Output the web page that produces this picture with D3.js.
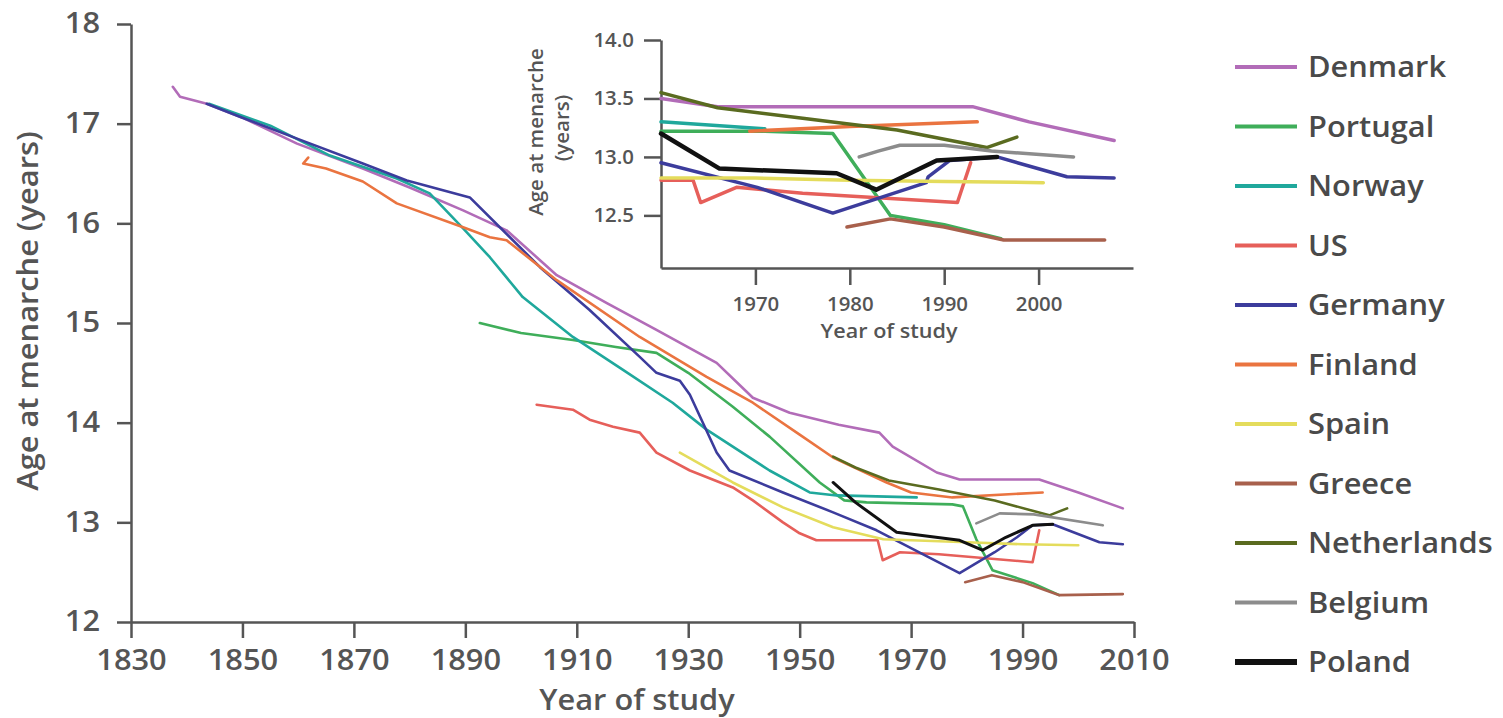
<!DOCTYPE html>
<html><head><meta charset="utf-8">
<script src="https://cdn.jsdelivr.net/npm/d3@7"></script>
<style>
body{margin:0;background:#fff}
svg{display:block}
text{font-family:"Open Sans",sans-serif;font-weight:600}
</style>
</head><body>
<svg id="c" width="1503" height="718"></svg>
<script>
// ---------- data ----------
const countries = ["Denmark","Portugal","Norway","US","Germany","Finland","Spain","Greece","Netherlands","Belgium","Poland"];
const colors = ["#b26cb8","#3fae5a","#1fa89c","#e65f5a","#3c3c9c","#ea7440","#e4dc5c","#a8604c","#5a6b20","#8c8c8c","#111111"];

const xTicksMain = [1830,1850,1870,1890,1910,1930,1950,1970,1990,2010];
const yTicksMain = [12,13,14,15,16,17,18];
const xTicksInset = [1970,1980,1990,2000];
const yTicksInset = [12.5,13.0,13.5,14.0];

// main chart series [year, age]
const denmark = [[1837.5,17.37],[1838.8,17.27],[1843.6,17.2],[1850,17.06],[1859.8,16.8],[1871.6,16.55],[1880,16.36],[1889.6,16.13],[1897.4,15.93],[1906.4,15.48],[1915.4,15.2],[1924.3,14.93],[1935.1,14.6],[1941.6,14.25],[1948.2,14.1],[1957,13.98],[1964.3,13.9],[1966.7,13.76],[1974.6,13.5],[1978.7,13.43],[1993,13.43],[2000,13.3],[2008,13.14]];
const portugal = [[1892.6,15.0],[1900,14.9],[1909.3,14.83],[1917,14.76],[1924.3,14.7],[1930,14.5],[1938,14.16],[1944.6,13.86],[1953.6,13.4],[1958,13.22],[1962,13.2],[1977.4,13.18],[1979.3,13.16],[1981.7,12.83],[1984.6,12.52],[1991.8,12.39],[1996.6,12.27]];
const norway = [[1844,17.2],[1855,16.98],[1865.7,16.68],[1877.7,16.45],[1883.6,16.3],[1889.6,15.95],[1894.4,15.66],[1900.3,15.26],[1909.3,14.86],[1918.3,14.53],[1927.2,14.2],[1933.3,13.93],[1944.6,13.52],[1951.8,13.3],[1956.6,13.27],[1971,13.25]];
const us = [[1902.8,14.18],[1909.3,14.13],[1912.3,14.03],[1916.5,13.96],[1921.3,13.9],[1924.3,13.7],[1930.3,13.52],[1938,13.35],[1941.6,13.22],[1947,13.0],[1950,12.89],[1953,12.82],[1964,12.82],[1964.9,12.62],[1968,12.7],[1975,12.68],[1991.8,12.6],[1993,12.92]];
const germany = [[1843.6,17.2],[1850,17.06],[1859.8,16.85],[1871.6,16.6],[1879.5,16.43],[1890.8,16.26],[1903.4,15.56],[1912.3,15.13],[1921.3,14.66],[1924.3,14.5],[1928.5,14.42],[1930.3,14.28],[1935.1,13.7],[1937.4,13.52],[1947,13.3],[1956,13.1],[1963.8,12.92],[1978.7,12.49],[1985,12.7],[1989,12.85],[1991.8,12.97],[1995.4,12.98],[2003.8,12.8],[2008,12.78]];
const finland = [[1861.8,16.66],[1860.9,16.6],[1865,16.55],[1871.6,16.42],[1877.7,16.2],[1889.6,15.96],[1894.4,15.86],[1897.4,15.83],[1906.4,15.43],[1921.3,14.86],[1933.3,14.46],[1941.6,14.2],[1950,13.88],[1956,13.65],[1965.6,13.4],[1970,13.3],[1977.4,13.25],[1993.6,13.3]];
const spain = [[1928.5,13.7],[1938,13.4],[1947,13.15],[1956,12.95],[1965,12.83],[1980,12.8],[1990,12.78],[2000,12.77]];
const greece = [[1979.7,12.4],[1984.5,12.47],[1990,12.4],[1996.5,12.27],[2008,12.28]];
const netherlands = [[1956,13.66],[1960,13.55],[1966,13.42],[1975,13.33],[1985,13.22],[1994.8,13.07],[1998,13.14]];
const belgium = [[1981.7,12.99],[1985.9,13.09],[1992,13.08],[2004.4,12.97]];
const poland = [[1956,13.4],[1960,13.2],[1967.4,12.9],[1978.7,12.82],[1982.8,12.72],[1987,12.85],[1991.8,12.97],[1995.4,12.98]];

// inset series [year, age]
const insetDenmark = [[1960,13.5],[1966,13.43],[1993,13.43],[1999,13.3],[2008,13.14]];
const insetPortugal = [[1960,13.22],[1971,13.22],[1978.2,13.2],[1984.3,12.5],[1990,12.42],[1996,12.3]];
const insetNorway = [[1960,13.3],[1971,13.24]];
const insetUS = [[1960,12.8],[1963.4,12.8],[1964.2,12.61],[1968,12.74],[1975,12.69],[1991.4,12.61],[1992.8,12.95]];
const insetGermany = [[1960,12.95],[1970.2,12.74],[1978.2,12.52],[1988.1,12.78],[1988.3,12.83],[1990.6,12.97],[1995.6,13.0],[2003,12.83],[2008,12.82]];
const insetFinland = [[1969.4,13.22],[1980,13.26],[1993.5,13.3]];
const insetSpain = [[1960,12.82],[1970,12.82],[1980,12.8],[1990,12.79],[2000.5,12.78]];
const insetGreece = [[1979.7,12.4],[1984.3,12.47],[1990,12.4],[1996.3,12.29],[2007,12.29]];
const insetNetherlands = [[1960,13.55],[1966,13.42],[1975,13.33],[1985,13.23],[1994.5,13.08],[1997.7,13.17]];
const insetBelgium = [[1981,13.0],[1983,13.05],[1985.3,13.1],[1990,13.1],[1995,13.05],[2003.7,13.0]];
const insetPoland = [[1960,13.2],[1966.2,12.9],[1978.6,12.86],[1982.8,12.72],[1989.2,12.97],[1995.6,13.0]];

const mainSeries = [denmark,portugal,norway,us,germany,finland,spain,greece,netherlands,belgium,poland];
const insetSeries = [insetDenmark,insetPortugal,insetNorway,insetUS,insetGermany,insetFinland,insetSpain,insetGreece,insetNetherlands,insetBelgium,insetPoland];

// ---------- drawing ----------
const svg = d3.select("#c");
const AX = "#555";
const TXT = "#555";
const S = 1.1; // horizontal text stretch

function styleAxis(g, fs, s, w, axisX){
  g.select(".domain").attr("stroke",AX).attr("stroke-width",w);
  g.selectAll(".tick line").attr("stroke",AX).attr("stroke-width",w);
  g.selectAll("text").attr("font-size",fs).attr("fill",TXT)
    .each(function(){
      const t=d3.select(this);
      const xx=+t.attr("x")||0, yy=+t.attr("y")||0;
      t.attr("transform",`translate(${xx},${yy}) scale(${s},1) translate(${-xx},${-yy})`);
    });
}

// main scales
const x = d3.scaleLinear().domain([1830,2010]).range([131,1134]);
const y = d3.scaleLinear().domain([12,18]).range([622,24]);

const gx = svg.append("g").attr("transform","translate(0,622)")
  .call(d3.axisBottom(x).tickValues(xTicksMain).tickFormat(d3.format("d")).tickSize(16).tickPadding(12).tickSizeOuter(0));
styleAxis(gx, 28, S, 2.5);
const gy = svg.append("g").attr("transform","translate(131,0)")
  .call(d3.axisLeft(y).tickValues(yTicksMain).tickFormat(d3.format("d")).tickSize(14).tickPadding(17).tickSizeOuter(0));
styleAxis(gy, 28, S, 2.5);

svg.append("text").attr("transform","translate(38,311) rotate(-90) scale("+S+",1)")
  .attr("text-anchor","middle").attr("font-size",28).attr("fill",TXT).text("Age at menarche (years)");
svg.append("text").attr("transform","translate(637,710) scale("+S+",1)")
  .attr("text-anchor","middle").attr("font-size",28).attr("fill",TXT).text("Year of study");

const line = d3.line().x(d=>x(d[0])).y(d=>y(d[1]));
svg.append("g").selectAll("path").data(mainSeries).join("path")
  .attr("d",line).attr("fill","none")
  .attr("stroke",(d,i)=>colors[i]).attr("stroke-width",(d,i)=>i===10?3:2.6)
  .attr("stroke-linejoin","round").attr("stroke-linecap","round");

// inset
const xi = d3.scaleLinear().domain([1960,2010]).range([661,1133]);
const yi = d3.scaleLinear().domain([12.05,14]).range([268,40]);
const gxi = svg.append("g").attr("transform","translate(0,268)")
  .call(d3.axisBottom(xi).tickValues(xTicksInset).tickFormat(d3.format("d")).tickSize(17).tickPadding(12).tickSizeOuter(0));
styleAxis(gxi, 20, 1.02, 2.5);
const gyi = svg.append("g").attr("transform","translate(661,0)")
  .call(d3.axisLeft(yi).tickValues(yTicksInset).tickFormat(d3.format(".1f")).tickSize(17).tickPadding(10).tickSizeOuter(0));
styleAxis(gyi, 20, 1.02, 2.5);

svg.append("text").attr("transform","translate(543,132) rotate(-90) scale(1.08,1)")
  .attr("text-anchor","middle").attr("font-size",19).attr("fill",TXT).text("Age at menarche");
svg.append("text").attr("transform","translate(569,128) rotate(-90) scale(1.08,1)")
  .attr("text-anchor","middle").attr("font-size",19).attr("fill",TXT).text("(years)");
svg.append("text").attr("transform","translate(889,338) scale(1.08,1)")
  .attr("text-anchor","middle").attr("font-size",20).attr("fill",TXT).text("Year of study");

const linei = d3.line().x(d=>xi(d[0])).y(d=>yi(d[1]));
svg.append("g").selectAll("path").data(insetSeries).join("path")
  .attr("d",linei).attr("fill","none")
  .attr("stroke",(d,i)=>colors[i]).attr("stroke-width",(d,i)=>i===10?4.5:3.5)
  .attr("stroke-linejoin","round").attr("stroke-linecap","round");

// legend
const leg = svg.append("g").selectAll("g").data(countries).join("g")
  .attr("transform",(d,i)=>`translate(0,${67+i*59.5})`);
leg.append("line").attr("x1",1235).attr("x2",1297).attr("y1",0).attr("y2",0)
  .attr("stroke",(d,i)=>colors[i]).attr("stroke-width",(d,i)=>i===10?6:4);
leg.append("text").attr("transform","translate(1308,10) scale("+S+",1)")
  .attr("font-size",28).attr("fill","#4a4a4a").text(d=>d);
</script>
</body></html>
